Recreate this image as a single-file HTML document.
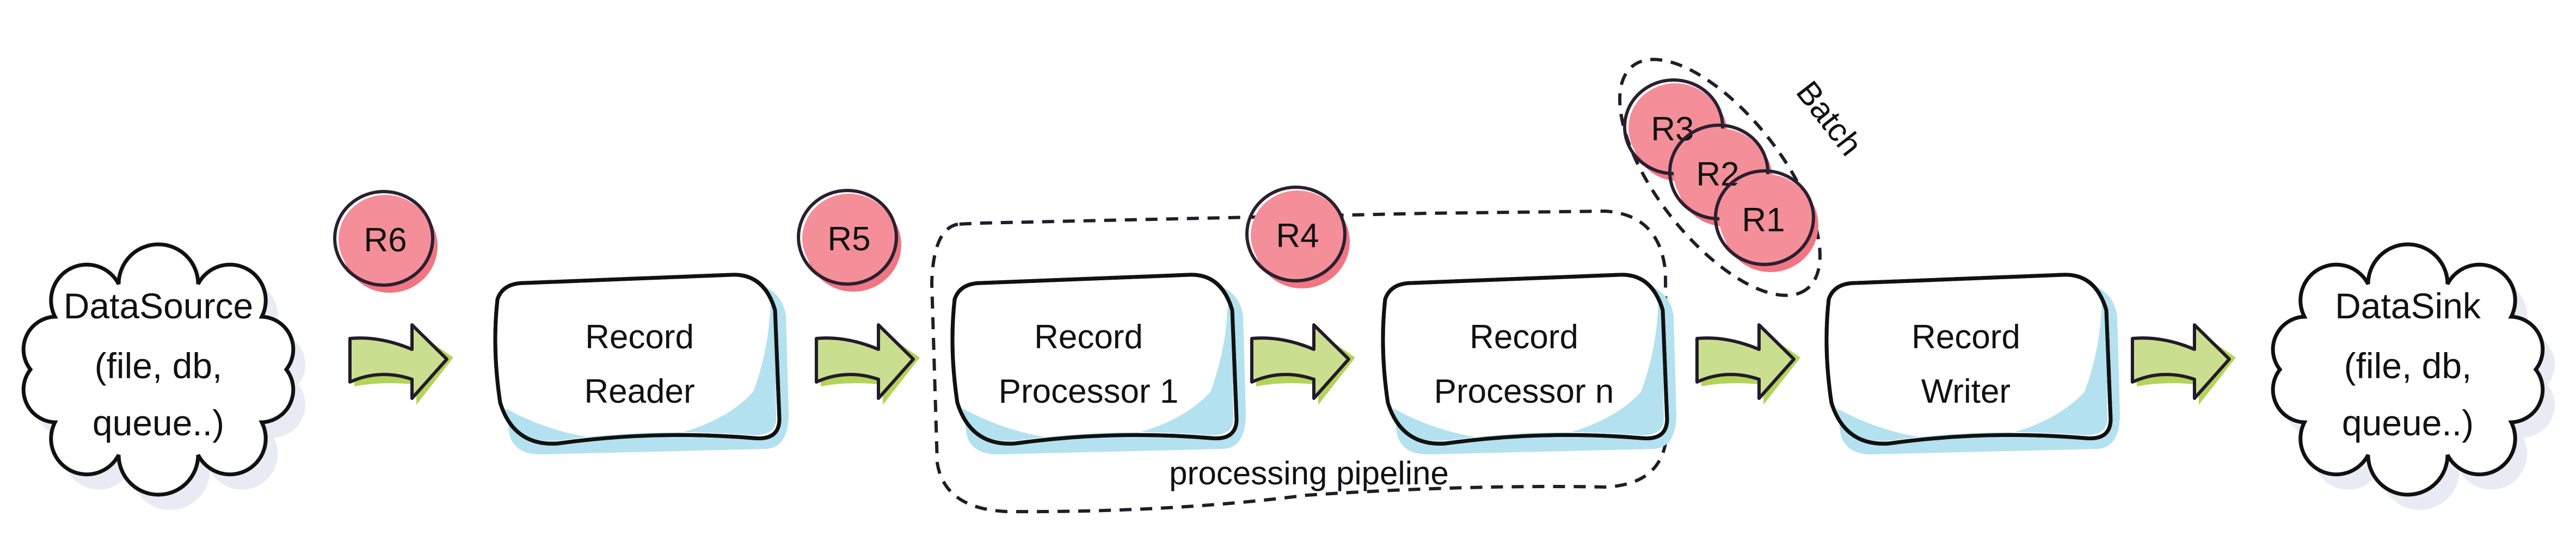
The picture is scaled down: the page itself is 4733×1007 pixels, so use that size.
<!DOCTYPE html>
<html><head><meta charset="utf-8"><style>
html,body{margin:0;padding:0;background:#fff;}
svg{display:block;}
text{font-family:"Liberation Sans Narrow","Liberation Sans",sans-serif;fill:#111;}
</style></head><body>
<svg width="4733" height="1007" viewBox="0 0 4733 1007" xmlns="http://www.w3.org/2000/svg">
<defs>
<path id="cloud" d="M526,679 A60,60 0 0 1 481,776 A60,60 0 0 1 364,836 A60,60 0 0 1 218,836 A60,60 0 0 1 101,776 A60,60 0 0 1 56,679 A60,60 0 0 1 101,582 A60,60 0 0 1 218,522 A60,60 0 0 1 364,522 A60,60 0 0 1 481,582 A60,60 0 0 1 526,679 Z"/>
<g id="arrow">
  <path d="M8,48 Q60,38 122,45 L122,82 L190,-5 L122,-52 L122,-20 Q65,-40 8,-30 Z" fill="#b3d45a"/>
  <path d="M0,40 Q55,15 114,35 L114,70 L178,-2 L114,-65 L114,-20 Q55,-45 0,-40 Z" fill="#c9df8f" stroke="#231a2a" stroke-width="6" stroke-linejoin="round"/>
</g>
<g id="box">
  <path d="M20,40 Q30,10 70,10 L460,0 Q530,0 540,60 L545,240 Q545,305 500,305 L90,315 Q30,315 30,260 Z" fill="#b3e1ef"/>
  <path d="M10,30 Q20,0 60,0 L440,-15 Q500,-18 520,50 L528,250 Q528,290 480,285 Q300,270 120,295 Q40,300 15,220 Q0,120 10,30 Z" fill="#fff" stroke="#111" stroke-width="7"/>
  <path d="M24,230 Q170,310 330,280 Q430,255 480,200 Q510,120 512,30 L520,60 L522,250 Q522,280 480,280 Q300,265 120,290 Q40,295 24,230 Z" fill="#b3e1ef"/>
  <path d="M10,30 Q20,0 60,0 L440,-15 Q500,-18 520,50 L528,250 Q528,290 480,285 Q300,270 120,295 Q40,300 15,220 Q0,120 10,30 Z" fill="none" stroke="#111" stroke-width="7"/>
</g>
<g id="rec">
  <ellipse cx="8" cy="12" rx="88" ry="86" fill="#f07682"/>
  <ellipse cx="0" cy="0" rx="86" ry="82" fill="#f48f9a"/>
  <ellipse cx="-3" cy="-2" rx="90" ry="86" fill="none" stroke="#2a2030" stroke-width="6"/>
</g>
</defs>

<use href="#cloud" transform="translate(22,28)" fill="#e8eaf4"/>
<use href="#cloud" fill="#fff" stroke="#111" stroke-width="7"/>
<text x="291" y="585" font-size="66" text-anchor="middle">DataSource</text>
<text x="291" y="695" font-size="66" text-anchor="middle">(file, db,</text>
<text x="291" y="800" font-size="66" text-anchor="middle">queue..)</text>

<use href="#cloud" transform="translate(4155,28)" fill="#e8eaf4"/>
<use href="#cloud" transform="translate(4133,0)" fill="#fff" stroke="#111" stroke-width="7"/>
<text x="4424" y="585" font-size="66" text-anchor="middle">DataSink</text>
<text x="4424" y="695" font-size="66" text-anchor="middle">(file, db,</text>
<text x="4424" y="800" font-size="66" text-anchor="middle">queue..)</text>

<use href="#arrow" transform="translate(643,662)"/>
<use href="#arrow" transform="translate(1500,662)"/>
<use href="#arrow" transform="translate(2300,662)"/>
<use href="#arrow" transform="translate(3118,662)"/>
<use href="#arrow" transform="translate(3918,662)"/>

<path d="M1760,412 Q1715,420 1712,520 L1722,850 Q1735,935 1850,940 Q2150,942 2400,910 Q2700,890 2950,895 Q3055,890 3062,800 L3060,500 Q3050,395 2950,388 L2620,392 L1800,410 Z" fill="none" stroke="#231a2a" stroke-width="6" stroke-dasharray="22,16"/>
<text x="2405" y="890" font-size="60" text-anchor="middle">processing pipeline</text>

<use href="#box" transform="translate(904,520)"/>
<text x="1175" y="640" font-size="62" text-anchor="middle">Record</text>
<text x="1175" y="740" font-size="62" text-anchor="middle">Reader</text>

<use href="#box" transform="translate(1744,520)"/>
<text x="2000" y="640" font-size="62" text-anchor="middle">Record</text>
<text x="2000" y="740" font-size="62" text-anchor="middle">Processor 1</text>

<use href="#box" transform="translate(2535,520)"/>
<text x="2800" y="640" font-size="62" text-anchor="middle">Record</text>
<text x="2800" y="740" font-size="62" text-anchor="middle">Processor n</text>

<use href="#box" transform="translate(3350,520)"/>
<text x="3612" y="640" font-size="62" text-anchor="middle">Record</text>
<text x="3612" y="740" font-size="62" text-anchor="middle">Writer</text>

<use href="#rec" transform="translate(708,440)"/>
<text x="708" y="462" font-size="62" text-anchor="middle">R6</text>
<use href="#rec" transform="translate(1560,438)"/>
<text x="1560" y="460" font-size="62" text-anchor="middle">R5</text>
<use href="#rec" transform="translate(2384,432)"/>
<text x="2384" y="454" font-size="62" text-anchor="middle">R4</text>

<ellipse cx="3160" cy="326" rx="260" ry="115" transform="rotate(52 3160 326)" fill="none" stroke="#231a2a" stroke-width="6" stroke-dasharray="22,16"/>
<use href="#rec" transform="translate(3078,235)"/>
<text x="3073" y="258" font-size="62" text-anchor="middle">R3</text>
<use href="#rec" transform="translate(3161,318)"/>
<text x="3156" y="341" font-size="62" text-anchor="middle">R2</text>
<use href="#rec" transform="translate(3245,402)"/>
<text x="3240" y="425" font-size="62" text-anchor="middle">R1</text>
<text x="3345" y="230" font-size="60" text-anchor="middle" transform="rotate(52 3345 230)">Batch</text>
</svg>
</body></html>
